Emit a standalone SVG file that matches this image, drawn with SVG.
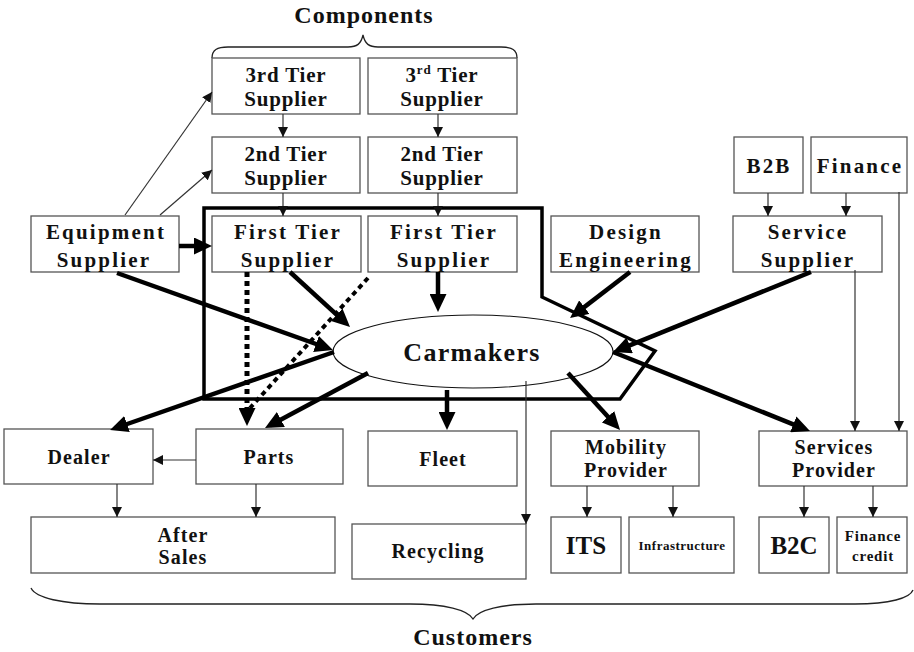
<svg xmlns="http://www.w3.org/2000/svg" width="914" height="652" viewBox="0 0 914 652">
  <style>
    text { font-family: "Liberation Serif", "Times New Roman", serif; font-weight: bold; fill: #111; text-anchor: middle; }
    .box { fill: #fff; stroke: #555; stroke-width: 1.3; }
    .t22 { font-size: 21px; letter-spacing: 0.8px; }
    .t21 { font-size: 21px; letter-spacing: 2.2px; }
    .t20 { font-size: 20px; letter-spacing: 1.1px; }
    .big { font-size: 25px; }
    .title { font-size: 24px; letter-spacing: 1px; }
    .thin { fill: none; stroke: #333; stroke-width: 1.2; marker-end: url(#headThin); }
    .thick { fill: none; stroke: #000; stroke-width: 4.5; marker-end: url(#headThick); }
    .dots { fill: none; stroke: #000; stroke-dasharray: 5 4; }
    .brace { fill: none; stroke: #222; stroke-width: 1.3; }
  </style>
  <defs>
    <marker id="headThin" markerUnits="userSpaceOnUse" markerWidth="10" markerHeight="10" refX="10" refY="5" orient="auto">
      <path d="M0,0 L10,5 L0,10 z" fill="#111"/>
    </marker>
    <marker id="headThick" markerUnits="userSpaceOnUse" markerWidth="18" markerHeight="17" refX="12" refY="8.5" orient="auto">
      <path d="M0,0 L18,8.5 L0,17 z" fill="#000"/>
    </marker>
  </defs>

  <rect width="914" height="652" fill="#fff"/>

  <!-- braces and group titles -->
  <g id="components">
    <path class="brace" d="M212,58 C212,50 217,47 228,47 L348,47 C357,47 361,44 363,35 C365,44 369,47 378,47 L501,47 C512,47 517,50 517,58"/>
    <text class="title" x="364" y="23">Components</text>
  </g>
  <g id="customers">
    <path class="brace" d="M31,588 C36,598 62,604 100,604 L410,604 C445,604 468,610 473,619 C478,610 501,604 536,604 L855,604 C890,604 910,598 913,590"/>
    <text class="title" x="473" y="645">Customers</text>
  </g>

  <!-- carmakers boundary -->
  <polygon id="boundary" points="204,208 542,208 542,297 655,351 620,399 204,399" fill="none" stroke="#000" stroke-width="3.5" stroke-linejoin="miter"/>

  <!-- nodes -->
  <g id="tier3-a"><rect class="box" x="212" y="58" width="148" height="56"/>
    <text class="t22" x="286" y="82">3rd Tier</text><text class="t22" x="286" y="106">Supplier</text></g>
  <g id="tier3-b"><rect class="box" x="368" y="58" width="149" height="56"/>
    <text class="t22" x="442" y="82">3<tspan font-size="13" dy="-8">rd</tspan><tspan dy="8"> Tier</tspan></text><text class="t22" x="442" y="106">Supplier</text></g>
  <g id="tier2-a"><rect class="box" x="212" y="137" width="148" height="56"/>
    <text class="t22" x="286" y="161">2nd Tier</text><text class="t22" x="286" y="185">Supplier</text></g>
  <g id="tier2-b"><rect class="box" x="368" y="137" width="149" height="56"/>
    <text class="t22" x="442" y="161">2nd Tier</text><text class="t22" x="442" y="185">Supplier</text></g>
  <g id="b2b"><rect class="box" x="734" y="137" width="69" height="56"/>
    <text class="t21" x="769" y="173">B2B</text></g>
  <g id="finance"><rect class="box" x="811" y="137" width="96" height="56"/>
    <text class="t21" x="860" y="173">Finance</text></g>

  <g id="equipment"><rect class="box" x="31" y="216" width="148" height="56"/>
    <text class="t21" x="106" y="239">Equipment</text><text class="t21" x="104" y="267">Supplier</text></g>
  <g id="tier1-a"><rect class="box" x="212" y="216" width="149" height="56"/>
    <text class="t21" x="288" y="239">First Tier</text><text class="t21" x="288" y="267">Supplier</text></g>
  <g id="tier1-b"><rect class="box" x="368" y="216" width="149" height="56"/>
    <text class="t21" x="444" y="239">First Tier</text><text class="t21" x="444" y="267">Supplier</text></g>
  <g id="design"><rect class="box" x="551" y="216" width="148" height="56"/>
    <text class="t21" x="626" y="239">Design</text><text class="t21" x="626" y="267">Engineering</text></g>
  <g id="service-supplier"><rect class="box" x="733" y="216" width="149" height="56"/>
    <text class="t21" x="808" y="239">Service</text><text class="t21" x="808" y="267">Supplier</text></g>

  <g id="carmakers"><ellipse cx="473" cy="351.5" rx="140" ry="36.5" fill="#fff" stroke="#111" stroke-width="1.1"/>
    <text x="472" y="361" font-size="26" letter-spacing="1.3">Carmakers</text></g>

  <g id="dealer"><rect class="box" x="4" y="429" width="149" height="55"/>
    <text class="t20" x="79" y="464">Dealer</text></g>
  <g id="parts"><rect class="box" x="196" y="429" width="147" height="55"/>
    <text class="t20" x="269" y="464">Parts</text></g>
  <g id="fleet"><rect class="box" x="368" y="431" width="149" height="55"/>
    <text class="t20" x="443" y="466">Fleet</text></g>
  <g id="mobility"><rect class="box" x="551" y="431" width="148" height="55"/>
    <text class="t20" x="626" y="454">Mobility</text><text class="t20" x="626" y="477">Provider</text></g>
  <g id="services-provider"><rect class="box" x="759" y="431" width="148" height="55"/>
    <text class="t20" x="834" y="454">Services</text><text class="t20" x="834" y="477">Provider</text></g>

  <g id="after-sales"><rect class="box" x="31" y="517" width="304" height="56"/>
    <text class="t20" x="183" y="542">After</text><text class="t20" x="183" y="564">Sales</text></g>
  <g id="recycling"><rect class="box" x="352" y="524" width="174" height="55"/>
    <text class="t20" x="438" y="558">Recycling</text></g>
  <g id="its"><rect class="box" x="551" y="517" width="70" height="56"/>
    <text class="big" x="586" y="554">ITS</text></g>
  <g id="infrastructure"><rect class="box" x="629" y="517" width="105" height="56"/>
    <text x="682" y="550" font-size="13" letter-spacing="0.5">Infrastructure</text></g>
  <g id="b2c"><rect class="box" x="759" y="517" width="70" height="56"/>
    <text class="big" x="794" y="554">B2C</text></g>
  <g id="finance-credit"><rect class="box" x="837" y="517" width="70" height="56"/>
    <text x="873" y="541" font-size="15" letter-spacing="0.8">Finance</text><text x="873" y="561" font-size="15" letter-spacing="0.8">credit</text></g>

  <!-- connectors -->
  <g id="connectors">
    <!-- supply chain (thin) -->
    <line class="thin" x1="125" y1="215" x2="212" y2="92"/>
    <line class="thin" x1="160" y1="215" x2="212" y2="170"/>
    <line class="thin" x1="283" y1="114" x2="283" y2="137"/>
    <line class="thin" x1="438" y1="114" x2="438" y2="137"/>
    <line class="thin" x1="283" y1="193" x2="283" y2="216"/>
    <line class="thin" x1="438" y1="193" x2="438" y2="216"/>
    <line class="thin" x1="768" y1="193" x2="768" y2="216"/>
    <line class="thin" x1="846" y1="193" x2="846" y2="216"/>
    <line class="thin" x1="855" y1="270" x2="855" y2="431"/>
    <line class="thin" x1="899" y1="192" x2="899" y2="431"/>
    <line class="thin" x1="526" y1="381" x2="526" y2="524"/>
    <line class="thin" x1="196" y1="460" x2="153" y2="460"/>
    <line class="thin" x1="117" y1="484" x2="117" y2="517"/>
    <line class="thin" x1="256" y1="484" x2="256" y2="517"/>
    <line class="thin" x1="587" y1="486" x2="587" y2="517"/>
    <line class="thin" x1="673" y1="486" x2="673" y2="517"/>
    <line class="thin" x1="804" y1="486" x2="804" y2="517"/>
    <line class="thin" x1="873" y1="486" x2="873" y2="517"/>

    <!-- main flows (thick) -->
    <line class="thick" x1="179" y1="246" x2="206" y2="246"/>
    <line class="thick" x1="117" y1="273" x2="327.3" y2="348"/>
    <line class="thick" x1="290" y1="272" x2="345.6" y2="322.9"/>
    <line class="thick" x1="438" y1="272" x2="438" y2="306"/>
    <line class="thick" x1="630" y1="272" x2="574.8" y2="314.4"/>
    <line class="thick" x1="811" y1="272" x2="618.6" y2="349.8"/>
    <line class="thick" x1="334" y1="352" x2="115.7" y2="428"/>
    <line class="thick" x1="368" y1="373" x2="270.3" y2="425.2"/>
    <line class="thick" x1="447" y1="390" x2="447" y2="424"/>
    <line class="thick" x1="568" y1="373" x2="616" y2="425.6"/>
    <line class="thick" x1="613" y1="352" x2="804.4" y2="428.8"/>

    <!-- dotted part flows -->
    <line class="dots" x1="247" y1="272" x2="247" y2="420" stroke-width="5" marker-end="url(#headThick)"/>
    <line class="dots" x1="368" y1="278" x2="250" y2="408" stroke-width="4"/>
  </g>
</svg>
